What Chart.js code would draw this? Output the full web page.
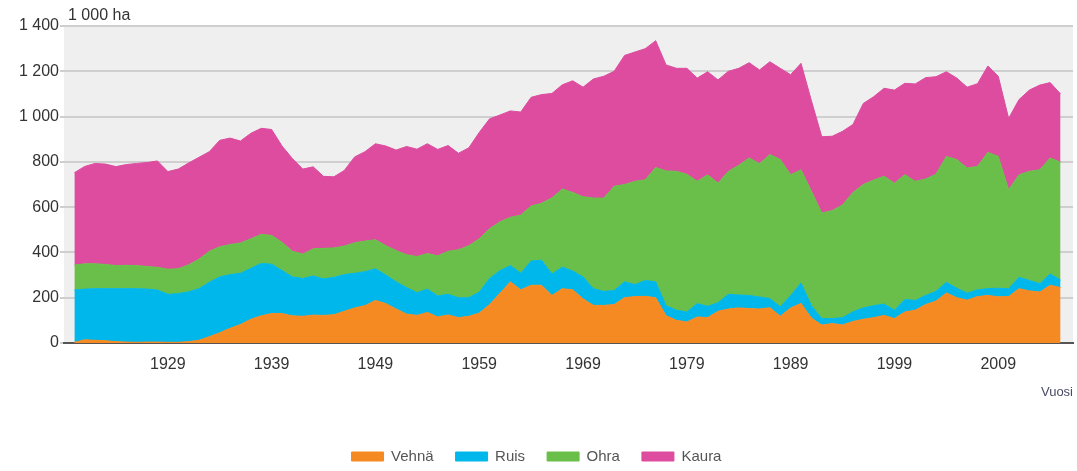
<!DOCTYPE html>
<html>
<head>
<meta charset="utf-8">
<script src="https://cdn.jsdelivr.net/npm/chart.js@4"></script>
<style>
  html, body { margin: 0; padding: 0; background: #fff; }
  #chart { display: block; }
</style>
</head>
<body>
<canvas id="chart" width="1077" height="471"></canvas>
<script>
// Viljojen viljelyala, 1 000 ha
const years = [
  1920, 1921, 1922, 1923, 1924, 1925, 1926, 1927, 1928, 1929,
  1930, 1931, 1932, 1933, 1934, 1935, 1936, 1937, 1938, 1939,
  1940, 1941, 1942, 1943, 1944, 1945, 1946, 1947, 1948, 1949,
  1950, 1951, 1952, 1953, 1954, 1955, 1956, 1957, 1958, 1959,
  1960, 1961, 1962, 1963, 1964, 1965, 1966, 1967, 1968, 1969,
  1970, 1971, 1972, 1973, 1974, 1975, 1976, 1977, 1978, 1979,
  1980, 1981, 1982, 1983, 1984, 1985, 1986, 1987, 1988, 1989,
  1990, 1991, 1992, 1993, 1994, 1995, 1996, 1997, 1998, 1999,
  2000, 2001, 2002, 2003, 2004, 2005, 2006, 2007, 2008, 2009,
  2010, 2011, 2012, 2013, 2014, 2015
];

const vehna = [
  3, 14, 12, 10, 6, 4, 3, 4, 4, 3,
  3, 6, 12, 28, 45, 65, 82, 105, 120, 130,
  130, 120, 118, 123, 122, 125, 140, 155, 165, 188,
  174, 150, 128, 122, 135, 115, 124, 112, 118, 132,
  170, 220, 270, 235, 255, 255, 210, 240, 235, 195,
  166, 166, 170, 200, 205, 206, 200, 120, 100, 93,
  115, 112, 140, 150, 155, 152, 150, 156, 118, 155,
  175, 110, 79, 86, 80, 95, 105, 112, 122, 108,
  137, 145, 170, 185, 221, 200, 189, 205, 210, 204,
  205, 240, 230, 225, 255, 245
];

const ruis = [
  231, 224, 228, 230, 234, 236, 237, 234, 230, 212,
  215, 220, 228, 240, 247, 237, 226, 225, 231, 218,
  190, 172, 167, 173, 161, 165, 162, 153, 150, 140,
  126, 120, 117, 100, 103, 93, 91, 88, 82, 93,
  115, 100, 72, 73, 107, 111, 95, 95, 83, 97,
  74, 62, 62, 70, 53, 70, 70, 45, 45, 44,
  59, 50, 38, 65, 57, 58, 53, 40, 42, 55,
  90, 55, 29, 22, 32, 43, 50, 53, 50, 37,
  55, 43, 40, 43, 47, 42, 31, 30, 30, 38,
  35, 50, 46, 37, 50, 33
];

const ohra = [
  110, 112, 110, 107, 102, 103, 102, 100, 100, 111,
  110, 119, 130, 137, 133, 133, 134, 130, 129, 127,
  125, 113, 108, 120, 135, 130, 126, 135, 135, 128,
  130, 138, 145, 160, 157, 177, 190, 212, 230, 235,
  220, 215, 213, 257, 243, 251, 335, 345, 347, 354,
  400, 412, 460, 430, 456, 445, 505, 595, 613, 608,
  540, 581, 528, 543, 573, 607, 589, 636, 650, 533,
  500, 505, 466, 477, 498, 527, 545, 555, 564, 561,
  551, 526, 514, 517, 556, 568, 553, 545, 602, 582,
  437, 453, 482, 503, 512, 520
];

const kaura = [
  408, 430, 443, 443, 437, 445, 451, 459, 470, 431,
  440, 450, 450, 440, 470, 470, 450, 466, 468, 468,
  425, 410, 375, 362, 318, 314, 334, 379, 395, 424,
  440, 444, 478, 474, 485, 470, 467, 426, 432, 470,
  485, 472, 470, 455, 480, 480, 462, 460, 493, 484,
  526, 538, 508, 570, 571, 579, 560, 468, 455, 468,
  456, 455, 456, 442, 428, 421, 414, 410, 403, 442,
  470, 400, 337, 328, 325, 300, 358, 368, 389, 411,
  404, 430, 448, 431, 374, 360, 357, 365, 381, 354,
  315, 332, 359, 374, 333, 302
];

const seriesNames = ['Vehnä', 'Ruis', 'Ohra', 'Kaura'];
const seriesValues = [vehna, ruis, ohra, kaura];
const seriesColors = ['#f58a23', '#00b7eb', '#6abf4b', '#dd4c9f'];

const xTickYears = [1929, 1939, 1949, 1959, 1969, 1979, 1989, 1999, 2009];
const unitLabel = '1 000 ha';
const xTitle = 'Vuosi';

const FONT = '"Liberation Sans", Arial, sans-serif';
Chart.defaults.font.family = FONT;

function spaced(v) {
  return String(v).replace(/\B(?=(\d{3})+(?!\d))/g, ' ');
}

// gray plot background + unit text above the y axis
const plotDecor = {
  id: 'plotDecor',
  beforeDraw(chart) {
    const { ctx, chartArea: a } = chart;
    ctx.save();
    ctx.fillStyle = '#efefef';
    ctx.fillRect(a.left, a.top, a.right - a.left, a.bottom - a.top);
    ctx.restore();
  },
  afterDraw(chart) {
    const { ctx, chartArea: a } = chart;
    ctx.save();
    ctx.font = '16px ' + FONT;
    ctx.fillStyle = '#333';
    ctx.textBaseline = 'middle';
    ctx.fillText(unitLabel, a.left + 4, a.top - 10);
    ctx.restore();
  }
};

const datasets = seriesNames.map((name, i) => ({
  label: name,
  data: years.map((yr, j) => ({ x: yr, y: seriesValues[i][j] })),
  backgroundColor: seriesColors[i],
  borderColor: seriesColors[i],
  borderWidth: 1,
  pointRadius: 0,
  tension: 0,
  fill: i === 0 ? 'origin' : '-1'
}));

new Chart(document.getElementById('chart'), {
  type: 'line',
  data: { datasets },
  plugins: [plotDecor],
  options: {
    responsive: false,
    animation: false,
    layout: { padding: { top: 26, right: 4, left: 0, bottom: -3 } },
    plugins: {
      tooltip: { enabled: false },
      legend: {
        position: 'bottom',
        labels: {
          boxWidth: 32,
          boxHeight: 9,
          padding: 22,
          color: '#555',
          font: { size: 15 }
        }
      }
    },
    scales: {
      x: {
        type: 'linear',
        min: 1919,
        max: 2016.2,
        z: 1,
        afterBuildTicks: (scale) => {
          scale.ticks = xTickYears.map(v => ({ value: v }));
        },
        afterFit: (scale) => { scale.height = 84; },
        grid: { display: false, drawTicks: false },
        border: { display: true, color: '#555', width: 2 },
        ticks: {
          padding: 12,
          color: '#333',
          font: { size: 16 },
          maxRotation: 0,
          autoSkip: false,
          callback: (v) => String(v)
        },
        title: {
          display: true,
          text: xTitle,
          align: 'end',
          color: '#4a4a66',
          font: { size: 13 },
          padding: { top: 0, bottom: 27 }
        }
      },
      y: {
        stacked: true,
        min: 0,
        max: 1400,
        afterFit: (scale) => { scale.width = 64; },
        border: { display: false },
        grid: { color: '#cfcfcf', lineWidth: 2, tickLength: 4 },
        ticks: {
          stepSize: 200,
          padding: 1,
          color: '#333',
          font: { size: 16 },
          callback: (v) => spaced(v)
        }
      }
    }
  }
});
</script>
</body>
</html>
